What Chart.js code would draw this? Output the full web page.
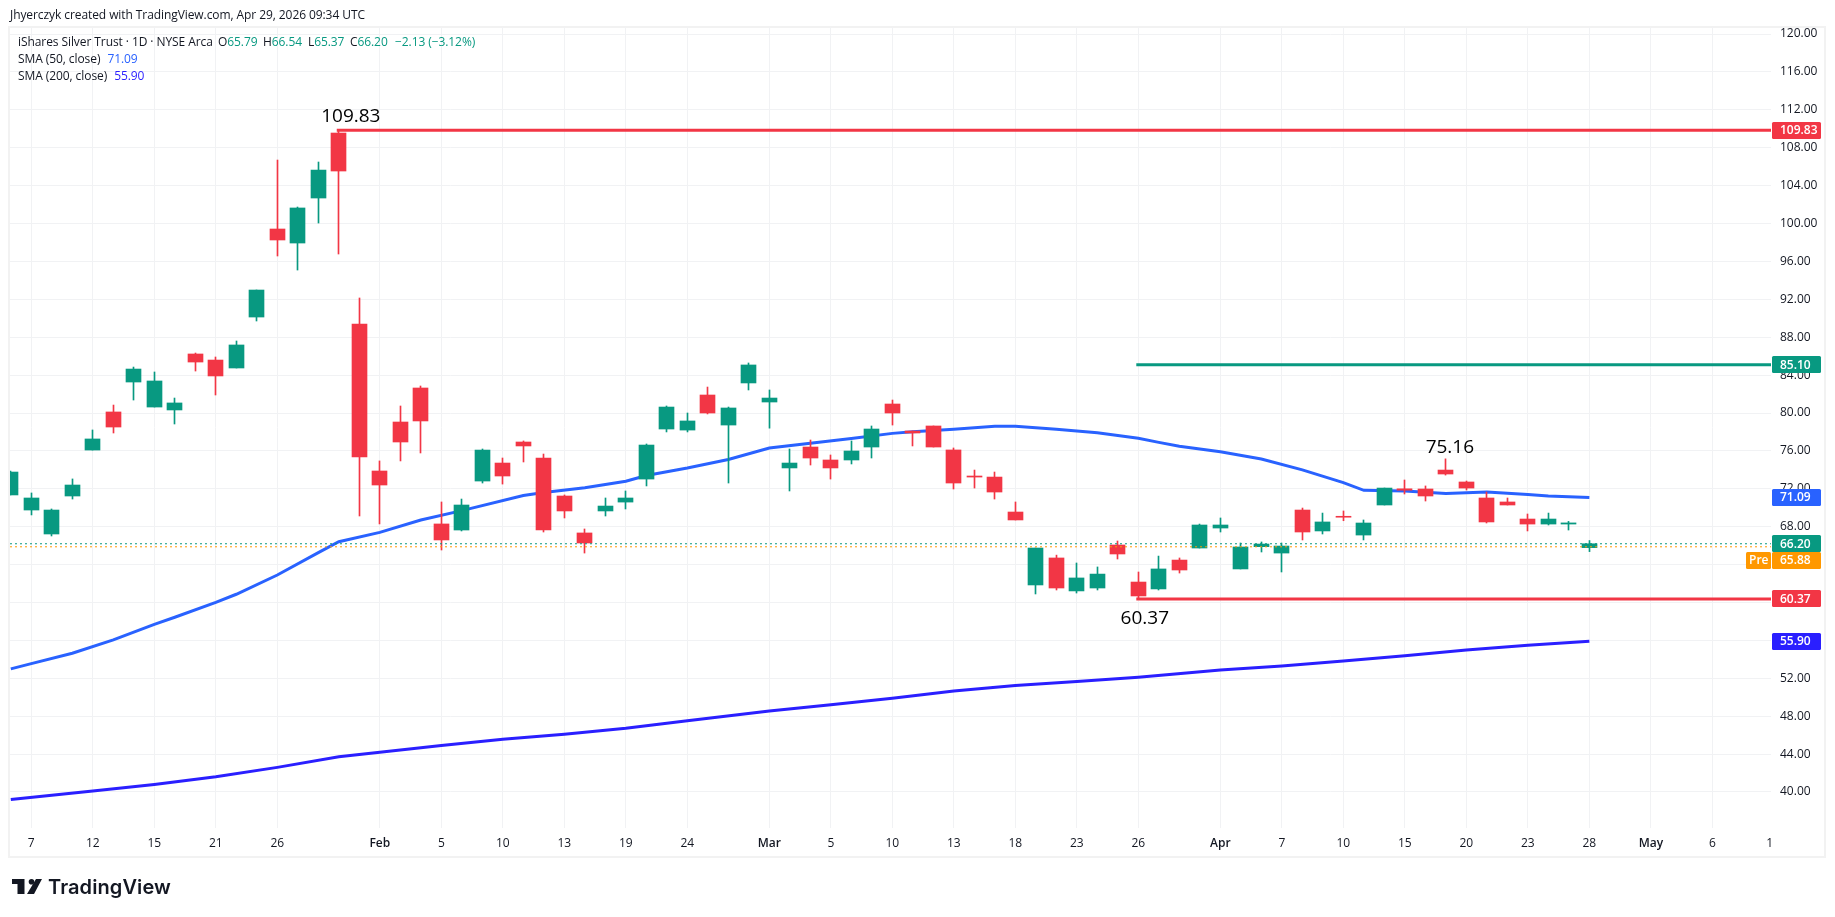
<!DOCTYPE html>
<html>
<head>
<meta charset="utf-8">
<title>iShares Silver Trust</title>
<script src="https://cdn.jsdelivr.net/npm/chart.js@4/dist/chart.umd.min.js"></script>
<style>
  html, body { margin: 0; padding: 0; background: #fff; overflow: hidden; }
  #wrap { position: relative; width: 1835px; height: 917px; }
  #chart { position: absolute; left: 0; top: 0; }
  .txt { position: absolute; font: 12px "Open Sans", sans-serif; color: #131722; white-space: nowrap; line-height: 16px; letter-spacing: -0.08px; }
  .up { color: #089981; }
  #logoText { position: absolute; left: 48px; top: 873px; font: 600 20px Inter, sans-serif; color: #131722; line-height: 28px; letter-spacing: 0.1px; }
</style>
</head>
<body>
<div id="wrap">
  <canvas id="chart" width="1835" height="917"></canvas>
  <div class="txt" style="left:10px;top:7px">Jhyerczyk created with TradingView.com, Apr 29, 2026 09:34 UTC</div>
  <div class="txt" style="left:18px;top:34px">iShares Silver Trust · 1D · NYSE Arca</div>
  <div class="txt" style="left:218px;top:34px">O<span class="up">65.79</span></div>
  <div class="txt" style="left:263px;top:34px">H<span class="up">66.54</span></div>
  <div class="txt" style="left:308px;top:34px">L<span class="up">65.37</span></div>
  <div class="txt" style="left:350px;top:34px">C<span class="up">66.20</span></div>
  <div class="txt up" style="left:395px;top:34px">−2.13 (−3.12%)</div>
  <div class="txt" style="left:18px;top:51px">SMA (50, close) <span style="color:#2962ff;margin-left:4px">71.09</span></div>
  <div class="txt" style="left:18px;top:68px">SMA (200, close) <span style="color:#2a1fff;margin-left:4px">55.90</span></div>
  <svg style="position:absolute;left:12px;top:879px" width="30" height="15" viewBox="0 0 30 15">
    <path fill="#131722" d="M0 0H12.5V15H5.5V5H0Z"/>
    <circle fill="#131722" cx="19.5" cy="2.8" r="2.8"/>
    <path fill="#131722" d="M24 0H30L22 15H15Z"/>
  </svg>
  <div id="logoText">TradingView</div>
</div>
<script>
// bars, Jan 6 = 0 ... Apr 28 = 77
const opens = [71.35,69.76,67.23,71.24,76.09,80.11,83.27,80.63,80.32,86.23,
  85.59,84.75,90.13,99.42,97.94,102.69,109.55,89.39,73.88,79.05,
  82.64,68.29,67.65,72.82,74.72,76.94,75.25,71.24,67.34,69.66,
  70.6,73.03,78.31,78.2,81.9,78.73,83.17,81.16,74.2,76.41,
  75.04,75.04,76.41,80.95,78.1,78.63,76.1,73.35,73.24,69.55,
  61.85,64.7,61.22,61.53,66.07,62.16,61.43,64.48,65.75,67.86,
  63.54,65.89,65.22,69.76,67.55,69.1,67.12,70.29,72.0,71.98,
  73.98,72.72,71.03,70.61,68.81,68.28,68.28,65.79];
const closes = [73.77,71.03,69.76,72.4,77.26,78.52,84.64,83.38,81.06,85.38,
  83.91,87.18,92.98,98.26,101.64,105.64,105.54,75.36,72.4,76.94,
  79.16,66.6,70.29,76.09,73.35,76.52,67.65,69.66,66.28,70.18,
  71.03,76.62,80.63,79.16,80.0,80.53,85.07,81.58,74.72,75.25,
  74.2,75.99,78.31,80.0,77.89,76.41,72.61,73.24,71.66,68.71,
  65.75,61.53,62.59,63.0,65.12,60.69,63.54,63.43,68.18,68.18,
  65.86,66.17,65.96,67.44,68.5,69.0,68.39,72.08,71.85,71.24,
  73.56,72.08,68.5,70.29,68.28,68.81,68.4,66.2];
const highs = [73.88,71.56,69.87,73.04,78.21,80.84,84.85,84.33,81.58,86.33,
  85.91,87.6,92.98,106.7,101.74,106.49,109.83,92.14,74.94,80.74,
  82.85,70.61,70.92,76.2,75.25,77.05,75.67,71.35,67.76,71.03,
  71.77,76.73,80.74,80.0,82.74,80.63,85.28,82.43,76.2,77.15,
  75.57,77.05,78.63,81.37,78.1,78.63,76.31,73.98,73.77,70.61,
  65.75,65.0,64.17,63.75,66.49,63.22,64.9,64.7,68.28,68.92,
  66.28,66.39,66.28,69.97,69.44,69.66,68.71,72.08,72.93,72.3,
  75.16,72.82,71.66,71.03,69.34,69.44,68.56,66.54];
const lows = [71.35,69.24,67.02,70.92,76.09,77.89,81.37,80.63,78.84,84.43,
  81.9,84.75,89.71,96.57,95.09,100.05,96.78,69.13,68.29,74.94,
  75.78,65.54,67.55,72.61,72.5,74.83,67.44,68.92,65.22,69.13,
  69.87,72.3,78.0,78.0,79.9,72.61,82.43,78.4,71.77,74.51,
  73.03,74.62,75.25,78.73,76.52,76.41,71.98,72.08,70.92,68.71,
  60.9,61.32,61.0,61.32,64.59,60.37,61.32,63.11,65.75,67.44,
  63.54,65.33,63.22,66.6,67.23,68.63,66.6,70.29,71.45,70.71,
  73.45,71.87,68.39,70.29,67.55,68.18,67.65,65.37];

const sma50Idx = [0,1,3,5,7,8,10,11,13,15,16,18,20,22,25,26,28,30,31,33,35,37,39,41,43,44,46,48,49,51,53,55,56,57,59,61,63,65,66,68,70,72,74,75,77];
const sma50 = [52.99,53.55,54.64,56.05,57.7,58.44,60.02,60.87,62.9,65.26,66.42,67.4,68.71,69.7,71.3,71.6,72.1,72.8,73.4,74.2,75.1,76.3,76.8,77.3,77.85,78.03,78.28,78.6,78.6,78.28,77.92,77.33,76.9,76.5,75.9,75.15,74.0,72.65,71.84,71.77,71.5,71.66,71.4,71.24,71.09];
const sma200Idx = [0,4,7,10,13,16,18,21,24,27,30,33,37,40,43,46,49,52,55,59,62,65,68,71,74,77];
const sma200 = [39.2,40.1,40.8,41.6,42.6,43.73,44.2,44.9,45.56,46.1,46.72,47.53,48.55,49.22,49.89,50.66,51.23,51.65,52.1,52.88,53.3,53.83,54.39,54.99,55.48,55.9];

const xTickIdx = [1,4,7,10,13,18,21,24,27,30,33,37,40,43,46,49,52,55,59,62,65,68,71,74,77,80,83,85.8];
const xTickLabels = ["7","12","15","21","26","Feb","5","10","13","19","24","Mar","5","10","13","18","23","26","Apr","7","10","15","20","23","28","May","6","1"];
const monthLabels = ["Feb","Mar","Apr","May"];
const priceTicks = [120,116,112,108,104,100,96,92,88,84,80,76,72,68,64,60,56,52,48,44,40];

// level lines
const levelValues = [109.83, 85.10, 60.37];
const levelStarts = [15.9, 54.9, 54.9];
const levelNames = ["high", "target", "low"];
const lastClose = 66.20;
const preMarket = 65.88;

// callouts on the chart
const calloutText = ["109.83", "75.16", "60.37"];
const calloutIdx = [16, 70, 55];
const calloutVal = [109.83, 75.16, 60.37];

const UP = "#089981", DOWN = "#f23645", BLUE = "#2962ff", NAVY = "#2a1fff", ORANGE = "#ff9800";
const GRID = "#f1f2f4", FRAME = "#f2f2f2", INK = "#131722";
const FONT = '"Open Sans", sans-serif';

const xMin = -0.039, xMax = 85.86;
const candleColors = closes.map((c, i) => c >= opens[i] ? UP : DOWN);

const levelDatasets = levelValues.map((v, k) => ({
  type: "line",
  label: levelNames[k],
  data: [{ x: levelStarts[k], y: v }, { x: xMax, y: v }],
  borderColor: k === 1 ? UP : DOWN,
  borderWidth: 3,
  pointRadius: 0,
  order: 2
}));

// keep wicks and bodies on whole pixels like the original
const snapBars = {
  id: "snapBars",
  afterDatasetsUpdate(chart) {
    chart.data.datasets.forEach((ds, k) => {
      if (ds.type !== "bar") return;
      chart.getDatasetMeta(k).data.forEach(el => { el.x = Math.floor(el.x) + 0.5; });
    });
  }
};

const frame = {
  id: "frame",
  beforeDraw(chart) {
    const ctx = chart.ctx;
    ctx.save();
    ctx.strokeStyle = FRAME;
    ctx.lineWidth = 2;
    ctx.strokeRect(9, 27, 1816, 830);
    ctx.restore();
  }
};

function tag(ctx, left, w, y, color, text, inset) {
  ctx.fillStyle = color;
  ctx.beginPath();
  ctx.roundRect(left, Math.round(y - 8.5), w, 17, 1.5);
  ctx.fill();
  ctx.fillStyle = "#fff";
  ctx.font = "600 12px " + FONT;
  ctx.textBaseline = "middle";
  ctx.textAlign = "left";
  ctx.fillText(text, left + inset, Math.round(y) + 0.5);
}

const overlays = {
  id: "overlays",
  afterDraw(chart) {
    const ctx = chart.ctx, x = chart.scales.x, y = chart.scales.y;
    ctx.save();
    // price tags on the axis
    tag(ctx, 1772, 49, y.getPixelForValue(109.83), DOWN, "109.83", 8);
    tag(ctx, 1772, 49, y.getPixelForValue(85.10), UP, "85.10", 8);
    tag(ctx, 1772, 49, y.getPixelForValue(71.09), BLUE, "71.09", 8);
    tag(ctx, 1772, 49, y.getPixelForValue(lastClose), UP, lastClose.toFixed(2), 8);
    tag(ctx, 1772, 49, y.getPixelForValue(preMarket) + 13.5, ORANGE, preMarket.toFixed(2), 8);
    tag(ctx, 1746, 25, y.getPixelForValue(preMarket) + 13.5, ORANGE, "Pre", 3);
    tag(ctx, 1772, 49, y.getPixelForValue(60.37), DOWN, "60.37", 8);
    tag(ctx, 1772, 49, y.getPixelForValue(55.90), NAVY, "55.90", 8);
    // callouts
    ctx.fillStyle = "#000";
    ctx.font = "19px " + FONT;
    ctx.textAlign = "center";
    ctx.textBaseline = "middle";
    const dx = [12, 4, 6.5], dy = [-14, -11, 20];
    calloutText.forEach((t, k) => {
      ctx.fillText(t, x.getPixelForValue(calloutIdx[k]) + dx[k], y.getPixelForValue(calloutVal[k]) + dy[k]);
    });
    ctx.restore();
  }
};

new Chart(document.getElementById("chart"), {
  type: "bar",
  data: {
    datasets: [
      {
        type: "line", label: "SMA 50", order: 6,
        data: sma50Idx.map((i, k) => ({ x: i, y: sma50[k] })),
        borderColor: BLUE, borderWidth: 3, pointRadius: 0, tension: 0
      },
      {
        type: "line", label: "SMA 200", order: 6,
        data: sma200Idx.map((i, k) => ({ x: i, y: sma200[k] })),
        borderColor: NAVY, borderWidth: 3, pointRadius: 0, tension: 0
      },
      {
        type: "bar", label: "wicks", order: 5, grouped: false,
        data: highs.map((h, i) => ({ x: i, y: [lows[i], h] })),
        backgroundColor: candleColors, barThickness: 1, borderWidth: 0
      },
      {
        type: "bar", label: "bodies", order: 4, grouped: false,
        data: opens.map((o, i) => ({ x: i, y: [o, closes[i]] })),
        backgroundColor: candleColors, barThickness: 15, borderWidth: 0
      },
      ...levelDatasets,
      {
        type: "line", label: "last", order: 1,
        data: [{ x: xMin, y: lastClose }, { x: xMax, y: lastClose }],
        borderColor: UP, borderWidth: 1, borderDash: [2, 3], pointRadius: 0
      },
      {
        type: "line", label: "pre", order: 1,
        data: [{ x: xMin, y: preMarket }, { x: xMax, y: preMarket }],
        borderColor: ORANGE, borderWidth: 1, borderDash: [2, 3], pointRadius: 0
      }
    ]
  },
  options: {
    responsive: false,
    animation: false,
    layout: { padding: { left: 10, top: 27, right: 10, bottom: 60 } },
    plugins: { legend: { display: false }, tooltip: { enabled: false } },
    scales: {
      x: {
        type: "linear",
        offset: false,
        min: xMin,
        max: xMax,
        afterBuildTicks: (s) => { s.ticks = xTickIdx.map(v => ({ value: v })); },
        afterFit: (s) => { s.height = 29; s.paddingLeft = 0; s.paddingRight = 0; },
        border: { display: false },
        grid: {
          offset: false,
          drawTicks: false,
          color: (c) => c.tick && c.tick.value > 85 ? "transparent" : GRID
        },
        ticks: {
          autoSkip: false,
          maxRotation: 0,
          padding: 8,
          color: INK,
          callback: (v, i) => xTickLabels[i],
          font: (c) => ({
            family: FONT,
            size: 12,
            weight: c.tick && monthLabels.includes(c.tick.label) ? "600" : "400"
          })
        }
      },
      y: {
        position: "right",
        min: 36.2,
        max: 120.74,
        afterBuildTicks: (s) => { s.ticks = priceTicks.map(v => ({ value: v })); },
        afterFit: (s) => { s.width = 54; s.paddingTop = 0; s.paddingBottom = 0; },
        border: { display: false },
        grid: { drawTicks: false, color: GRID },
        ticks: {
          crossAlign: "near",
          padding: 9,
          color: INK,
          font: { family: FONT, size: 12 },
          callback: (v) => v.toFixed(2)
        }
      }
    }
  },
  plugins: [frame, snapBars, overlays]
});
</script>
</body>
</html>
